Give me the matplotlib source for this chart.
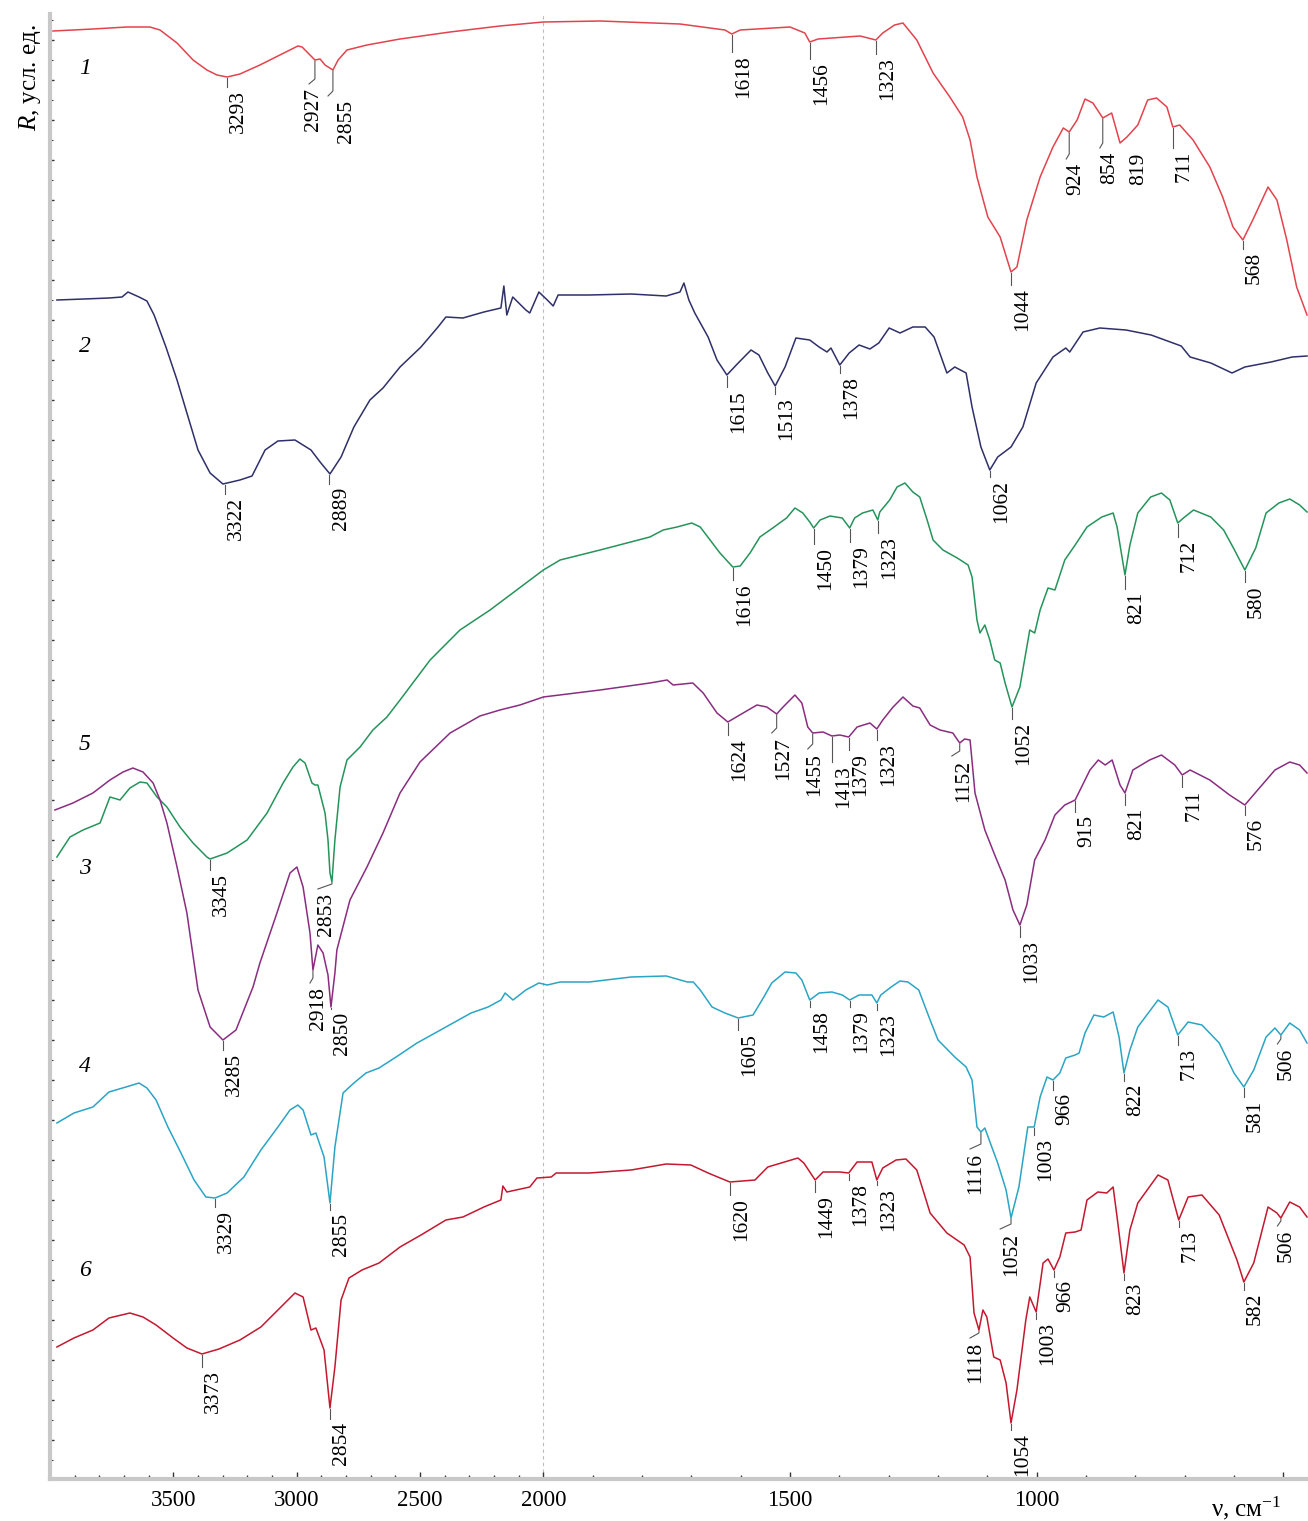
import numpy as np
import matplotlib
matplotlib.use('Agg')
from matplotlib import pyplot as plt
from matplotlib.ticker import FixedLocator, MultipleLocator, NullFormatter

plt.rcParams['font.family'] = ['Liberation Serif', 'DejaVu Serif']
plt.rcParams['mathtext.fontset'] = 'custom'
plt.rcParams['mathtext.rm'] = 'Liberation Serif'
plt.rcParams['mathtext.it'] = 'Liberation Serif:italic'

# spectra: wavenumber (cm-1) and reflectance offset (arb. units, downwards)
nu1 = [3988, 3826, 3688, 3595, 3554, 3485, 3420, 3364, 3323, 3282, 3230, 3149, 3068, 2995, 2978, 2954,
       2926, 2905, 2885, 2853, 2832, 2796, 2715, 2581, 2378, 2176, 2000, 1885, 1723, 1632, 1618, 1601,
       1500, 1470, 1460, 1443, 1358, 1326, 1312, 1288, 1271, 1243, 1210, 1176, 1150, 1135, 1121, 1099,
       1074, 1052, 1040, 1020, 993, 967, 946, 934, 918, 902, 886, 866, 848, 831, 817, 795, 775, 757,
       736, 724, 710, 683, 649, 623, 602, 582, 562, 531, 513, 493, 473, 452]
r1 = [31, 29, 27, 27, 30, 43, 60, 70, 75, 77, 74, 65, 55, 46, 47, 53,
      60, 59, 65, 70, 60, 50, 45, 39, 32, 26, 22, 21, 24, 30, 34, 30,
      27, 33, 42, 39, 36, 40, 33, 25, 23, 40, 73, 97, 117, 140, 177, 217,
      237, 272, 267, 220, 177, 147, 128, 132, 120, 99, 103, 118, 113, 143, 137, 125, 100, 98,
      107, 127, 125, 140, 167, 197, 227, 240, 220, 187, 200, 240, 287, 315]

nu2 = [3972, 3862, 3761, 3708, 3684, 3639, 3607, 3578, 3530, 3485, 3445, 3400, 3351, 3299, 3230, 3181,
       3128, 3076, 3007, 2942, 2905, 2865, 2820, 2768, 2703, 2650, 2581, 2496, 2427, 2395, 2326, 2241,
       2172, 2160, 2148, 2124, 2071, 2055, 2018, 1992, 1980, 1970, 1907, 1822, 1751, 1723, 1715, 1705,
       1693, 1666, 1648, 1628, 1605, 1579, 1563, 1545, 1530, 1510, 1488, 1460, 1441, 1425, 1417, 1399,
       1380, 1360, 1338, 1320, 1299, 1277, 1251, 1226, 1208, 1182, 1166, 1143, 1131, 1113, 1095, 1079,
       1052, 1028, 1001, 967, 941, 933, 906, 872, 819, 768, 707, 689, 647, 604, 578, 525, 482, 452]
r2 = [300, 299, 298, 297, 292, 297, 301, 315, 347, 380, 413, 450, 473, 484, 480, 476,
      450, 441, 440, 450, 462, 474, 457, 427, 400, 388, 367, 347, 327, 317, 318, 312,
      308, 286, 315, 297, 310, 313, 292, 300, 306, 295, 295, 294, 296, 292, 283, 300,
      313, 337, 360, 375, 363, 350, 355, 373, 386, 367, 338, 340, 347, 352, 348, 365,
      353, 345, 349, 343, 328, 333, 327, 327, 337, 373, 367, 373, 407, 447, 470, 457,
      447, 427, 383, 357, 348, 352, 332, 328, 330, 335, 346, 357, 363, 373, 367, 362, 357, 356]

nu5 = [3972, 3919, 3866, 3797, 3757, 3716, 3676, 3635, 3607, 3566, 3526, 3473, 3420, 3364, 3351, 3282,
       3201, 3120, 3055, 3015, 2987, 2966, 2938, 2926, 2914, 2885, 2873, 2865, 2857, 2845, 2824, 2796,
       2743, 2691, 2634, 2581, 2459, 2338, 2216, 2135, 2054, 2000, 1966, 1885, 1784, 1757, 1729, 1699,
       1682, 1662, 1642, 1616, 1601, 1581, 1561, 1535, 1507, 1490, 1474, 1460, 1452, 1439, 1419, 1394,
       1379, 1369, 1353, 1332, 1322, 1318, 1298, 1283, 1267, 1251, 1237, 1222, 1210, 1190, 1161, 1139,
       1131, 1121, 1115, 1105, 1095, 1085, 1074, 1064, 1050, 1034, 1014, 1004, 993, 977, 963, 943,
       922, 898, 868, 845, 837, 821, 811, 795, 769, 747, 730, 714, 700, 682, 647, 621,
       599, 578, 556, 535, 509, 487, 467, 452]
r5 = [857, 837, 830, 823, 797, 800, 788, 782, 783, 797, 807, 827, 843, 857, 859, 853,
      840, 813, 783, 767, 759, 763, 783, 785, 785, 813, 840, 873, 882, 840, 787, 760,
      747, 730, 717, 700, 660, 630, 610, 595, 580, 570, 560, 550, 537, 530, 527, 523,
      527, 540, 553, 567, 566, 553, 537, 528, 518, 508, 513, 522, 528, 520, 516, 518,
      528, 518, 513, 510, 520, 512, 500, 487, 483, 492, 497, 520, 540, 550, 558, 565,
      577, 620, 633, 625, 640, 660, 663, 683, 707, 687, 630, 633, 610, 588, 590, 560,
      545, 527, 517, 513, 527, 575, 545, 513, 497, 493, 500, 523, 517, 510, 517, 530,
      550, 570, 548, 513, 503, 499, 505, 512]

nu3 = [3980, 3907, 3826, 3757, 3704, 3664, 3623, 3582, 3554, 3526, 3485, 3445, 3400, 3351, 3299, 3246,
       3177, 3149, 3080, 3027, 2999, 2974, 2946, 2934, 2914, 2893, 2873, 2861, 2845, 2837, 2784, 2715,
       2650, 2581, 2500, 2378, 2257, 2176, 2095, 2000, 1885, 1784, 1749, 1737, 1697, 1676, 1648, 1626,
       1595, 1567, 1547, 1527, 1514, 1490, 1476, 1464, 1454, 1433, 1415, 1399, 1381, 1364, 1338, 1324,
       1312, 1291, 1271, 1251, 1237, 1216, 1196, 1170, 1156, 1146, 1135, 1125, 1105, 1085, 1064, 1048,
       1034, 1020, 1004, 983, 963, 943, 922, 912, 892, 875, 861, 847, 831, 821, 805, 771,
       747, 720, 705, 689, 649, 609, 578, 552, 517, 487, 467, 452]
r3 = [810, 803, 793, 780, 772, 768, 772, 783, 800, 823, 867, 913, 990, 1027, 1040, 1030,
      987, 963, 913, 873, 867, 887, 933, 970, 945, 953, 975, 1007, 973, 950, 900, 867,
      833, 793, 762, 733, 716, 710, 705, 697, 690, 683, 680, 685, 683, 693, 713, 722,
      713, 705, 707, 714, 707, 695, 703, 727, 733, 732, 736, 735, 737, 727, 723, 729,
      720, 707, 697, 706, 708, 725, 730, 733, 743, 739, 740, 793, 830, 855, 880, 910,
      925, 905, 860, 840, 815, 805, 800, 790, 770, 760, 765, 760, 785, 793, 770, 760,
      755, 765, 775, 770, 780, 795, 805, 790, 770, 762, 765, 773]

nu4 = [3972, 3903, 3826, 3761, 3692, 3639, 3607, 3570, 3522, 3469, 3416, 3368, 3331, 3282, 3214, 3145,
       3076, 3027, 2995, 2974, 2942, 2922, 2889, 2865, 2845, 2812, 2768, 2719, 2666, 2597, 2512, 2395,
       2293, 2224, 2172, 2155, 2123, 2071, 2018, 1992, 1966, 1907, 1822, 1751, 1708, 1696, 1682, 1658,
       1632, 1605, 1575, 1553, 1537, 1510, 1488, 1476, 1460, 1441, 1415, 1394, 1379, 1360, 1334, 1324,
       1316, 1295, 1277, 1261, 1239, 1216, 1200, 1166, 1143, 1131, 1121, 1113, 1105, 1091, 1079, 1062,
       1052, 1036, 1018, 1005, 993, 979, 967, 953, 941, 922, 914, 902, 884, 864, 845, 833,
       823, 811, 795, 754, 734, 714, 693, 665, 630, 600, 580, 560, 535, 517, 505, 487,
       467, 452]
r4 = [1123, 1113, 1107, 1092, 1087, 1083, 1088, 1100, 1127, 1153, 1180, 1197, 1198, 1193, 1177, 1150,
      1127, 1110, 1105, 1110, 1135, 1133, 1157, 1203, 1147, 1093, 1083, 1073, 1068, 1057, 1043, 1027,
      1013, 1007, 1000, 993, 1000, 990, 983, 985, 982, 982, 977, 976, 982, 982, 990, 1007,
      1013, 1018, 1015, 997, 983, 972, 973, 980, 1000, 993, 992, 995, 1000, 995, 995, 1003,
      995, 987, 981, 982, 990, 1020, 1040, 1057, 1067, 1080, 1127, 1132, 1128, 1147, 1163, 1190,
      1218, 1187, 1127, 1127, 1097, 1077, 1080, 1073, 1058, 1055, 1053, 1033, 1015, 1017, 1012, 1037,
      1073, 1050, 1027, 1000, 1007, 1035, 1022, 1025, 1043, 1073, 1087, 1070, 1037, 1028, 1035, 1023,
      1030, 1043]

nu6 = [3972, 3903, 3826, 3761, 3676, 3623, 3570, 3501, 3445, 3384, 3315, 3230, 3145, 3076, 3007, 2974,
       2942, 2922, 2889, 2865, 2845, 2820, 2788, 2735, 2666, 2581, 2496, 2395, 2326, 2241, 2172, 2164,
       2148, 2055, 2026, 1984, 1974, 1907, 1822, 1751, 1701, 1666, 1622, 1571, 1545, 1484, 1472, 1449,
       1433, 1399, 1381, 1364, 1334, 1324, 1312, 1285, 1265, 1243, 1216, 1182, 1147, 1135, 1127, 1117,
       1109, 1101, 1087, 1074, 1062, 1052, 1040, 1022, 1014, 1001, 987, 977, 965, 953, 941, 922,
       910, 898, 876, 858, 845, 837, 823, 811, 795, 754, 734, 712, 693, 665, 630, 594,
       580, 560, 531, 513, 505, 487, 467, 452]
r6 = [1347, 1338, 1330, 1318, 1313, 1317, 1325, 1338, 1348, 1354, 1349, 1340, 1327, 1310, 1293, 1297,
      1330, 1328, 1350, 1408, 1367, 1300, 1278, 1270, 1263, 1247, 1235, 1220, 1217, 1207, 1200, 1186,
      1192, 1187, 1178, 1177, 1173, 1173, 1170, 1164, 1165, 1173, 1182, 1180, 1167, 1158, 1163, 1180,
      1172, 1172, 1173, 1162, 1162, 1180, 1168, 1160, 1159, 1170, 1213, 1233, 1245, 1257, 1313, 1330,
      1310, 1317, 1357, 1360, 1383, 1423, 1390, 1320, 1297, 1312, 1263, 1259, 1270, 1257, 1233, 1232,
      1230, 1200, 1192, 1193, 1187, 1217, 1273, 1230, 1203, 1175, 1180, 1220, 1197, 1195, 1215, 1260,
      1282, 1263, 1207, 1213, 1218, 1202, 1207, 1217]

# peak marks: label, peak wavenumber, peak level, text top, text wavenumber, leader hook end
peaks1 = [("3293", 3282, 77, 90, None, None), ("2927", 2926, 60, 88, 2978, 2950),
          ("2855", 2853, 70, 100, 2845, 2873), ("1618", 1618, 34, 55, None, None),
          ("1456", 1460, 42, 62, None, None), ("1323", 1326, 40, 57, None, None),
          ("1044", 1052, 272, 288, None, None), ("924", 934, 132, 163, 944, 940),
          ("854", 866, 118, 152, 876, 872), ("819", None, 143, 153, 817, None),
          ("711", 724, 127, 151, None, None), ("568", 582, 240, 252, None, None)]
peaks2 = [("3322", 3290, 484, 497, None, None), ("2889", 2867, 474, 487, None, None),
          ("1615", 1628, 375, 390, None, None), ("1513", 1530, 386, 397, None, None),
          ("1378", 1399, 365, 376, None, None), ("1062", 1095, 470, 480, None, None)]
peaks5 = [("3345", 3351, 859, 873, None, None), ("2853", 2857, 882, 893, 2926, 2914),
          ("1616", 1616, 567, 583, None, None), ("1450", 1452, 528, 547, None, None),
          ("1379", 1379, 528, 545, None, None), ("1323", 1322, 520, 536, None, None),
          ("1052", 1050, 707, 722, None, None), ("821", 821, 575, 592, None, None),
          ("712", 714, 523, 540, None, None), ("580", 578, 570, 585, None, None)]
peaks3 = [("3285", 3299, 1040, 1053, None, None), ("2918", 2934, 970, 987, 2958, 2946),
          ("2850", 2861, 1007, 1012, None, None), ("1624", 1626, 722, 738, None, None),
          ("1527", 1527, 714, 737, 1537, 1537), ("1455", 1454, 733, 753, 1474, 1464),
          ("1413", 1415, 736, 765, None, None), ("1379", 1381, 737, 753, None, None),
          ("1323", 1324, 729, 743, None, None), ("1152", 1156, 743, 760, 1172, 1172),
          ("1033", 1034, 925, 940, None, None), ("915", 922, 800, 815, None, None),
          ("821", 821, 793, 808, None, None), ("711", 705, 775, 790, None, None),
          ("576", 578, 805, 818, None, None)]
peaks4 = [("3329", 3331, 1198, 1210, None, None), ("2855", 2865, 1203, 1213, None, None),
          ("1605", 1605, 1018, 1033, None, None), ("1458", 1460, 1000, 1010, None, None),
          ("1379", 1379, 1000, 1010, None, None), ("1323", 1324, 1003, 1013, None, None),
          ("1116", 1113, 1132, 1153, 1147, 1135), ("1052", 1052, 1218, 1233, 1074, 1074),
          ("1003", 1005, 1127, 1138, None, None), ("966", 967, 1080, 1093, None, None),
          ("822", 823, 1073, 1084, None, None), ("713", 714, 1035, 1048, None, None),
          ("581", 580, 1087, 1100, None, None), ("506", 505, 1035, 1048, 517, 512)]
peaks6 = [("3373", 3384, 1354, 1370, None, None), ("2854", 2865, 1408, 1422, None, None),
          ("1620", 1622, 1182, 1198, None, None), ("1449", 1449, 1180, 1195, None, None),
          ("1378", 1381, 1173, 1183, None, None), ("1323", 1324, 1180, 1188, None, None),
          ("1118", 1117, 1330, 1342, 1147, 1135), ("1054", 1052, 1423, 1433, None, None),
          ("1003", 1001, 1312, 1322, None, None), ("966", 965, 1270, 1280, None, None),
          ("823", 823, 1273, 1283, None, None), ("713", 712, 1220, 1230, None, None),
          ("582", 580, 1282, 1293, None, None), ("506", 505, 1218, 1230, 517, 512)]

curve_names = ["1", "2", "5", "3", "4", "6"]
name_pos = [68, 346, 745, 868, 1066, 1270]
name_nu = 3858

spectra = [(nu1, r1, peaks1, '#e3434d'), (nu2, r2, peaks2, '#2f2f6a'),
           (nu5, r5, peaks5, '#25945a'), (nu3, r3, peaks3, '#8a2d80'),
           (nu4, r4, peaks4, '#2aa5c4'), (nu6, r6, peaks6, '#c4182f')]


def fwd(v):
    v = np.asarray(v, dtype=float)
    return np.where(v >= 2000, v - 2000, 2 * (v - 2000))


def inv(u):
    u = np.asarray(u, dtype=float)
    return np.where(u >= 0, u + 2000, u / 2 + 2000)


fig = plt.figure(figsize=(13.08, 15.21), dpi=100)
ax = fig.add_axes([50 / 1308, 42 / 1521, 1258 / 1308, 1465 / 1521])
ax.set_xscale('function', functions=(fwd, inv))
ax.set_xlim(4000, 450)
ax.set_ylim(1479, 14)

ax.axvline(2000, color='#bbbbbb', ls=(0, (3, 3)), lw=0.8, zorder=0)

for nu, r, peaks, col in spectra:
    ax.plot(nu, r, color=col, lw=1.1)
    for lab, nup, rp, rt, nut, nuh in peaks:
        if nup is not None:
            if nuh is None:
                ax.plot([nup, nup], [rp + 1, rt - 3], color='#555555', lw=0.8)
            else:
                ax.plot([nup, nup, nuh], [rp + 1, rt - 9, rt - 4], color='#555555', lw=0.8)
        xt = nut if nut is not None else nup
        ax.annotate(lab, (xt, rt), xytext=(1.5, 0), textcoords='offset points',
                    rotation=90, ha='left', va='top', fontsize=15.5)

for name, y in zip(curve_names, name_pos):
    ax.text(name_nu, y, name, fontsize=17, style='italic', ha='center', va='center')

for s in ['top', 'right']:
    ax.spines[s].set_visible(False)
for s in ['left', 'bottom']:
    ax.spines[s].set_color('#c8c8c8')
    ax.spines[s].set_linewidth(3)

ax.xaxis.set_major_locator(FixedLocator([3500, 3000, 2500, 2000, 1500, 1000, 500]))
ax.xaxis.set_minor_locator(FixedLocator([3900, 3800, 3700, 3600, 3400, 3300, 3200, 3100, 2900, 2800,
                                         2700, 2600, 2400, 2300, 2200, 2100, 1900, 1800, 1700, 1600,
                                         1400, 1300, 1200, 1100, 900, 800, 700, 600]))
ax.set_xticklabels(['3500', '3000', '2500', '2000', '1500', '1000', ''])
ax.yaxis.set_major_locator(MultipleLocator(40))
ax.yaxis.set_minor_locator(MultipleLocator(20))
ax.yaxis.set_major_formatter(NullFormatter())
ax.tick_params(axis='x', which='major', direction='in', length=5, width=1, color='#333333',
               labelsize=16.5, pad=8)
ax.tick_params(axis='x', which='minor', direction='in', length=3, width=1, color='#333333')
ax.tick_params(axis='y', which='major', direction='in', length=3, width=1, color='#333333')
ax.tick_params(axis='y', which='minor', direction='in', length=2, width=0.8, color='#333333')

fig.text(30 / 1308, 1 - 24 / 1521, '$R$, усл. ед.', rotation=90, ha='center', va='top', fontsize=18)
fig.text(1282 / 1308, 1 - 1508 / 1521, 'ν, см$^{-1}$', ha='right', va='center', fontsize=18)

fig.savefig('out.png', dpi=100)
